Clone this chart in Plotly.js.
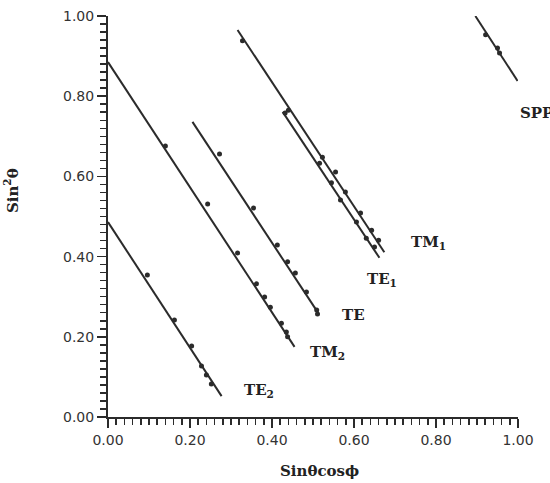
<!DOCTYPE html>
<html>
<head>
<meta charset="utf-8">
<script src="https://cdn.plot.ly/plotly-3.0.1.min.js"></script>
<style>html,body{margin:0;padding:0;background:#fff;}#chart{width:550px;height:483px;}</style>
</head>
<body>
<div id="chart"></div>
<script>
// Fitted lines (endpoints) and measured points for each mode
const sppLineX = [0.896, 0.999];
const sppLineY = [1.000, 0.838];
const sppX = [0.921, 0.950, 0.955];
const sppY = [0.953, 0.920, 0.908];

const tm1LineX = [0.316, 0.674];
const tm1LineY = [0.965, 0.411];
const tm1X = [0.328, 0.440, 0.523, 0.555, 0.579, 0.616, 0.643, 0.660];
const tm1Y = [0.938, 0.765, 0.648, 0.611, 0.561, 0.509, 0.466, 0.441];

const te1LineX = [0.426, 0.662];
const te1LineY = [0.761, 0.397];
const te1X = [0.432, 0.516, 0.545, 0.567, 0.606, 0.630, 0.650];
const te1Y = [0.758, 0.633, 0.584, 0.541, 0.486, 0.446, 0.424];

const teLineX = [0.206, 0.513];
const teLineY = [0.736, 0.259];
const teX = [0.272, 0.355, 0.413, 0.438, 0.457, 0.484, 0.509, 0.511];
const teY = [0.656, 0.521, 0.429, 0.387, 0.359, 0.312, 0.267, 0.257];

const tm2LineX = [0.000, 0.455];
const tm2LineY = [0.885, 0.175];
const tm2X = [0.140, 0.243, 0.316, 0.362, 0.382, 0.396, 0.423, 0.435, 0.438];
const tm2Y = [0.676, 0.531, 0.409, 0.332, 0.299, 0.274, 0.234, 0.212, 0.200];

const te2LineX = [0.000, 0.277];
const te2LineY = [0.486, 0.052];
const te2X = [0.096, 0.162, 0.204, 0.228, 0.240, 0.252];
const te2Y = [0.354, 0.242, 0.177, 0.127, 0.105, 0.082];

const modeLabels = ["SPP", "TM<sub>1</sub>", "TE<sub>1</sub>", "TE", "TM<sub>2</sub>", "TE<sub>2</sub>"];
const labelX = [0.999, 0.735, 0.626, 0.565, 0.487, 0.328];
const labelY = [0.758, 0.436, 0.342, 0.254, 0.160, 0.067];

const xTickVals = [0, 0.2, 0.4, 0.6, 0.8, 1.0];
const yTickVals = [0, 0.2, 0.4, 0.6, 0.8, 1.0];

const ink = '#2b2b2b';
const series = [
  [sppLineX, sppLineY, sppX, sppY],
  [tm1LineX, tm1LineY, tm1X, tm1Y],
  [te1LineX, te1LineY, te1X, te1Y],
  [teLineX, teLineY, teX, teY],
  [tm2LineX, tm2LineY, tm2X, tm2Y],
  [te2LineX, te2LineY, te2X, te2Y]
];
const traces = [];
series.forEach(s => {
  traces.push({x: s[0], y: s[1], mode: 'lines', type: 'scatter', line: {color: ink, width: 2}, hoverinfo: 'skip'});
  traces.push({x: s[2], y: s[3], mode: 'markers', type: 'scatter', marker: {color: ink, size: 5}, cliponaxis: false});
});

const labelFont = {family: 'DejaVu Serif', size: 15, color: '#222', weight: 'bold'};
const annotations = modeLabels.map((t, i) => ({
  x: labelX[i], y: labelY[i], xref: 'x', yref: 'y', text: '<b>' + t + '</b>',
  showarrow: false, xanchor: 'left', yanchor: 'middle', font: labelFont
}));
annotations.push({x: 0.517, y: -0.135, xref: 'paper', yref: 'paper', text: '<b>Sinθcosϕ</b>',
  showarrow: false, xanchor: 'center', yanchor: 'middle', font: labelFont});
annotations.push({x: -0.236, y: 0.564, xref: 'paper', yref: 'paper', text: '<b>Sin<sup>2</sup>θ</b>',
  showarrow: false, xanchor: 'center', yanchor: 'middle', textangle: -90, font: labelFont});

const axisCommon = {
  range: [0, 1], showgrid: false, zeroline: false, showline: true, linecolor: ink, linewidth: 2,
  ticks: 'outside', ticklen: 9, tickwidth: 1.5, tickcolor: ink, tickformat: '.2f',
  tickfont: {family: 'DejaVu Sans', size: 14, color: '#333'},
  minor: {dtick: 0.02, ticks: 'outside', ticklen: 6, tickwidth: 1.5, tickcolor: ink, showgrid: false}
};

const layout = {
  width: 550, height: 483,
  margin: {l: 108, r: 32, t: 16, b: 66},
  paper_bgcolor: '#fff', plot_bgcolor: '#fff',
  showlegend: false,
  xaxis: Object.assign({}, axisCommon, {tickvals: xTickVals}),
  yaxis: Object.assign({}, axisCommon, {tickvals: yTickVals}),
  annotations: annotations
};

Plotly.newPlot('chart', traces, layout, {displayModeBar: false, staticPlot: true});
</script>
</body>
</html>
